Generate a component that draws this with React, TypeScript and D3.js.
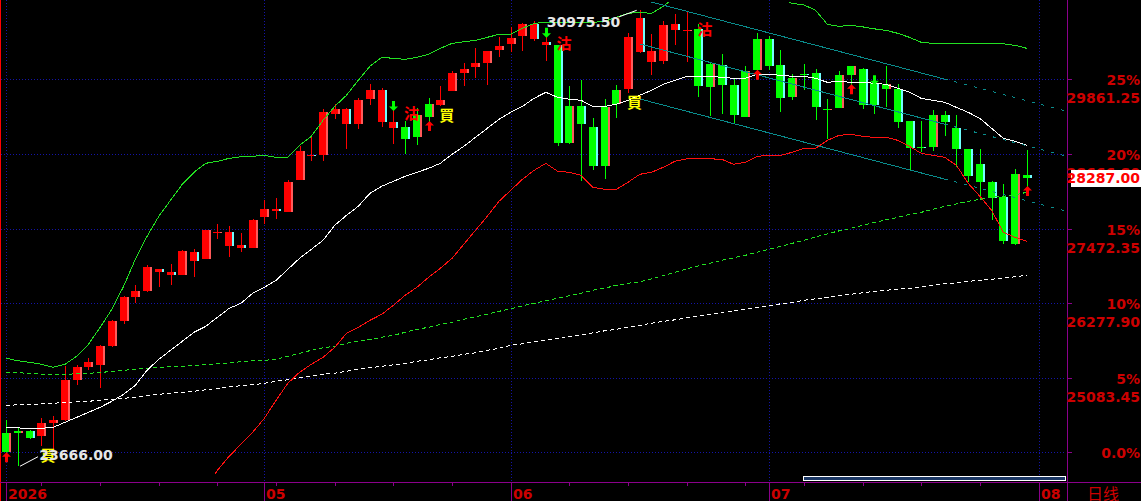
import React from 'react';
import * as d3 from 'd3';

const W = 1141;
const H = 501;

const basePrice = 23889;
const lastPrice = 28287;
const pctLevels = [0, 5, 10, 15, 20, 25];

const openP = [23889, 24198, 24225, 24145, 24358, 24401, 25042, 25255, 25282, 25586, 25991, 26375, 26471, 26824, 26776, 26728, 27096, 26984, 27400, 27422, 27208, 27160, 27656, 27779, 27736, 28249, 28655, 28649, 29300, 29392, 29140, 29540, 29685, 29172, 29092, 28937, 29257, 29445, 29673, 29962, 30058, 30122, 30325, 30421, 30554, 30741, 30458, 30405, 28841, 29428, 29097, 28473, 29460, 29712, 30842, 30138, 30149, 30741, 30634, 30672, 29737, 30085, 29765, 29257, 30005, 30501, 30085, 29577, 29952, 29962, 29364, 29408, 29925, 30032, 29801, 29701, 29701, 29188, 28777, 28777, 29284, 29087, 28740, 28500, 28217, 27976, 27219, 28324];
const highP = [24401, 24278, 24252, 24445, 24465, 25266, 25282, 25394, 25613, 26013, 26387, 26563, 26883, 26830, 26899, 27134, 27150, 27450, 27539, 27507, 27406, 27619, 27923, 27967, 28244, 28788, 28937, 29380, 29472, 29401, 29568, 29781, 29728, 29417, 29193, 29408, 29561, 29749, 29994, 30122, 30368, 30320, 30538, 30698, 30762, 30794, 30592, 30410, 29749, 29845, 29248, 29540, 29765, 30608, 30975.5, 30592, 30794, 30912, 30954, 30752, 30138, 30272, 29888, 30069, 30602, 30549, 30325, 29952, 30101, 30032, 29552, 29994, 30075, 30040, 29830, 30069, 29781, 29195, 29193, 29364, 29353, 29284, 28745, 28751, 28225, 28180, 28420, 28724];
const lowP = [23873, 23666, 24108, 23985, 23921, 24395, 24962, 25213, 24918, 25575, 25938, 26279, 26455, 26535, 26563, 26722, 26696, 26978, 27299, 27016, 27096, 27155, 27539, 27619, 27730, 28243, 28553, 28553, 29231, 28740, 29060, 29445, 29097, 28820, 28660, 28804, 29177, 29440, 29668, 29753, 29882, 29765, 30218, 30298, 30314, 30474, 30154, 28793, 28831, 28232, 28404, 28260, 29248, 29641, 30290, 29925, 30112, 30405, 30138, 29577, 29268, 29312, 29151, 29250, 30000, 30005, 29337, 29525, 29685, 29216, 28911, 29400, 29765, 29392, 29312, 29417, 29087, 28404, 28697, 28713, 28953, 28457, 28217, 27935, 27615, 27219, 27210, 28137];
const closeP = [24193, 24230, 24124, 24358, 24401, 25042, 25255, 25330, 25591, 25991, 26371, 26471, 26856, 26776, 26734, 27112, 26947, 27443, 27422, 27192, 27166, 27603, 27779, 27752, 28212, 28708, 28633, 29332, 29392, 29140, 29536, 29685, 29177, 29081, 28900, 29284, 29460, 29525, 29962, 30032, 30122, 30314, 30394, 30522, 30741, 30501, 30416, 28841, 29428, 29151, 28473, 29417, 29685, 30538, 30298, 30309, 30725, 30645, 30656, 29753, 30101, 29765, 29296, 29994, 30501, 30074, 29561, 29888, 29925, 29417, 29392, 29925, 30069, 29445, 29445, 29792, 29177, 28767, 28756, 29284, 29177, 28740, 28308, 28217, 27960, 27272, 28340, 28287];

const bollUpper = [25394, 25354, 25330, 25298, 25250, 25298, 25426, 25618, 25890, 26178, 26547, 26979, 27347, 27667, 27924, 28180, 28372, 28516, 28548, 28596, 28620, 28628, 28644, 28612, 28612, 28804, 28948, 29204, 29428, 29605, 29845, 30069, 30213, 30197, 30181, 30213, 30261, 30357, 30437, 30461, 30485, 30533, 30581, 30581, 30677, 30757, 30773, 30773, 30773, 30773, 30773, 30789, 30853, 30917, 30933, 30917, 31029, 31174, 31238, 31286, 31318, 31334, 31334, 31318, 31270, 31222, 31158, 31077, 31053, 30965, 30741, 30709, 30725, 30701, 30669, 30645, 30597, 30533, 30453, 30437, 30437, 30437, 30437, 30437, 30437, 30429, 30405, 30357];
const bollMid = [24281, 24281, 24265, 24273, 24289, 24369, 24449, 24529, 24609, 24706, 24818, 24962, 25202, 25378, 25522, 25666, 25810, 25906, 26050, 26194, 26274, 26435, 26531, 26643, 26819, 26995, 27139, 27283, 27523, 27683, 27827, 28036, 28148, 28228, 28308, 28372, 28436, 28516, 28660, 28788, 28932, 29076, 29220, 29332, 29428, 29557, 29653, 29573, 29541, 29525, 29428, 29428, 29460, 29525, 29605, 29685, 29781, 29845, 29909, 29909, 29909, 29893, 29877, 29877, 29941, 29941, 29925, 29909, 29909, 29877, 29813, 29829, 29813, 29813, 29797, 29781, 29717, 29653, 29557, 29525, 29493, 29412, 29332, 29236, 29076, 28916, 28868, 28804];
const bollLower = [23169, 23201, 23201, 23249, 23329, 23441, 23473, 23441, 23329, 23233, 23089, 22944, 23056, 23089, 23121, 23153, 23249, 23297, 23601, 23825, 24017, 24209, 24433, 24722, 24994, 25170, 25298, 25410, 25570, 25794, 25890, 26002, 26098, 26242, 26403, 26531, 26691, 26835, 26995, 27219, 27443, 27667, 27908, 28084, 28260, 28404, 28516, 28388, 28372, 28324, 28132, 28100, 28100, 28212, 28340, 28372, 28452, 28548, 28588, 28588, 28588, 28580, 28500, 28532, 28628, 28644, 28644, 28692, 28756, 28756, 28884, 28964, 28980, 28948, 28932, 28932, 28884, 28788, 28676, 28644, 28612, 28484, 28196, 27988, 27763, 27411, 27331, 27267];
const maGreen = [25165, 25162, 25154, 25138, 25138, 25138, 25146, 25154, 25165, 25186, 25202, 25218, 25234, 25250, 25258, 25266, 25282, 25290, 25306, 25322, 25338, 25354, 25362, 25378, 25426, 25474, 25522, 25562, 25586, 25634, 25666, 25698, 25730, 25762, 25810, 25858, 25890, 25938, 25970, 26018, 26058, 26098, 26146, 26186, 26234, 26274, 26314, 26355, 26395, 26435, 26483, 26515, 26563, 26595, 26619, 26667, 26715, 26771, 26827, 26875, 26915, 26963, 27003, 27043, 27091, 27139, 27187, 27235, 27283, 27339, 27387, 27435, 27475, 27523, 27571, 27611, 27651, 27699, 27731, 27779, 27827, 27867, 27908, 27940, 27972, 27988, 28012, 28052];
const maWhite = [24641, 24649, 24657, 24665, 24673, 24689, 24697, 24706, 24722, 24738, 24754, 24770, 24794, 24818, 24834, 24850, 24866, 24890, 24914, 24938, 24954, 24970, 24994, 25026, 25050, 25082, 25114, 25138, 25154, 25186, 25218, 25242, 25266, 25290, 25314, 25346, 25370, 25402, 25426, 25458, 25482, 25522, 25554, 25602, 25626, 25658, 25682, 25714, 25746, 25770, 25802, 25834, 25858, 25890, 25922, 25954, 25986, 26010, 26042, 26066, 26098, 26130, 26154, 26178, 26210, 26234, 26266, 26291, 26323, 26347, 26371, 26395, 26419, 26443, 26467, 26483, 26499, 26515, 26539, 26563, 26587, 26603, 26627, 26643, 26659, 26683, 26699, 26723];

const buySignals = [3, 37, 53];
const sellSignals = [34, 47, 59];
const sellLabelPrice = [29428, 30549, 30773];
const upArrows = [0, 36, 64, 72, 87];
const downArrows = [33, 46, 74];

const channelIdx = [54, 80];
const channelTop = [31148, 29864];
const channelMid = [30428, 29143];
const channelBot = [29547, 28263];

const monthIdx = [0, 22, 43, 65, 88];
const monthLabels = ['2026', '05', '06', '07', '08'];
const weekTickStart = 3;

const highIdx = 54;
const lowIdx = 1;

const RED = '#ff0000';
const GREEN = '#00ff00';
const UP_EDGE = '#ff5a5a';
const DOWN_EDGE = '#70ffff';
const PURPLE = '#8b008b';
const GRID = '#1414a8';
const AXIS_TXT = '#cc0000';
const TEAL = '#0a8c8c';
const NUM_FONT = "'DejaVu Sans', sans-serif";
const CJK_FONT = "'Noto Sans CJK TC', 'Noto Sans CJK SC', sans-serif";

export default function App() {
  const n = openP.length;
  const x = d3.scaleLinear().domain([0, n - 1]).range([6.3, 1026.8]);
  const y = d3.scaleLinear().domain([basePrice, basePrice * 1.25]).range([452.3, 79.3]);
  const plotRight = 1067;

  const line = d3
    .line<number>()
    .x((_, i) => x(i))
    .y((d) => y(d));

  const state: boolean[] = [];
  let red = false;
  for (let i = 0; i < n; i++) {
    if (buySignals.includes(i)) red = true;
    if (sellSignals.includes(i)) red = false;
    state.push(red);
  }

  const channelScale = (vals: number[]) => d3.scaleLinear().domain(channelIdx).range(vals);
  const extIdx = x.invert(plotRight - 1);
  const channels = [channelTop, channelMid, channelBot].map((vals) => {
    const s = channelScale(vals);
    return {
      solid: `M${x(channelIdx[0])},${y(s(channelIdx[0]))}L${x(channelIdx[1])},${y(s(channelIdx[1]))}`,
      dotted: `M${x(channelIdx[1])},${y(s(channelIdx[1]))}L${x(extIdx)},${y(s(extIdx))}`,
    };
  });

  const weekTicks: number[] = [];
  for (let i = weekTickStart; i < n; i += 5) if (!monthIdx.includes(i)) weekTicks.push(i);

  const hx = x(highIdx);
  const hy = y(highP[highIdx]);
  const lx = x(lowIdx);
  const ly = y(lowP[lowIdx]);
  const lastY = y(lastPrice);

  return (
    <svg
      width={W}
      height={H}
      viewBox={`0 0 ${W} ${H}`}
      style={{ position: 'absolute', left: 0, top: 0, background: '#000' }}
    >
      <defs>
        <clipPath id="plot">
          <rect x={1} y={2} width={plotRight - 1} height={472} />
        </clipPath>
      </defs>
      <rect x={0} y={0} width={W} height={H} fill="#000" />

      <g shapeRendering="crispEdges">
        {pctLevels.map((p) => {
          const yy = Math.round(y(basePrice * (1 + p / 100))) + 0.5;
          return (
            <line key={p} x1={1} x2={plotRight - 2} y1={yy} y2={yy} stroke={GRID} strokeDasharray="1,2" />
          );
        })}
        {monthIdx.map((i) => {
          const xx = Math.round(x(i)) + 0.5;
          return <line key={i} x1={xx} x2={xx} y1={0} y2={481} stroke={GRID} strokeDasharray="1,2" />;
        })}
      </g>

      <g shapeRendering="crispEdges">
        {openP.map((o, i) => {
          const c = closeP[i];
          const cx = Math.round(x(i));
          const fill = state[i] ? RED : GREEN;
          const up = c >= o;
          const top = Math.round(y(Math.max(o, c)));
          const bot = Math.round(y(Math.min(o, c)));
          const h = Math.max(1, bot - top);
          return (
            <g key={i}>
              <line
                x1={cx + 0.5}
                x2={cx + 0.5}
                y1={Math.round(y(highP[i]))}
                y2={Math.round(y(lowP[i]))}
                stroke={fill}
              />
              <rect x={cx - 4} y={top} width={9} height={h} fill={fill} />
              <rect x={cx + 3} y={top} width={2} height={h} fill={up ? UP_EDGE : DOWN_EDGE} />
            </g>
          );
        })}
      </g>

      <g clipPath="url(#plot)" fill="none" strokeWidth={1} shapeRendering="crispEdges">
        <path d={line(maWhite) || ''} stroke="#ffffff" strokeDasharray="4,3" />
        <path d={line(maGreen) || ''} stroke="#22e022" strokeDasharray="4,3" />
        <path d={line(bollUpper) || ''} stroke="#22e022" />
        <path d={line(bollMid) || ''} stroke="#ffffff" />
        <path d={line(bollLower) || ''} stroke="#ff1010" />
        {channels.map((ch, k) => (
          <g key={k}>
            <path d={ch.solid} stroke={TEAL} />
            <path d={ch.dotted} stroke={TEAL} strokeDasharray="3,7" />
          </g>
        ))}
      </g>

      {upArrows.map((i) => {
        const cx = Math.round(x(i)) + 0.5;
        const t = y(lowP[i]) - 1;
        return (
          <path
            key={`u${i}`}
            d={`M${cx},${t}L${cx + 4.5},${t + 4.5}L${cx + 1.5},${t + 4.5}L${cx + 1.5},${t + 10}L${cx - 1.5},${t + 10}L${cx - 1.5},${t + 4.5}L${cx - 4.5},${t + 4.5}Z`}
            fill={RED}
          />
        );
      })}
      {downArrows.map((i) => {
        const cx = Math.round(x(i)) + 0.5;
        const b = y(highP[i]) + 4;
        return (
          <path
            key={`d${i}`}
            d={`M${cx},${b}L${cx + 4.5},${b - 4.5}L${cx + 1.5},${b - 4.5}L${cx + 1.5},${b - 10}L${cx - 1.5},${b - 10}L${cx - 1.5},${b - 4.5}L${cx - 4.5},${b - 4.5}Z`}
            fill={GREEN}
          />
        );
      })}

      {buySignals.map((i) => (
        <text
          key={`b${i}`}
          x={x(i) - 1}
          y={y(lowP[i]) + 2 + 13}
          fill="#ffff00"
          fontFamily={CJK_FONT}
          fontWeight="bold"
          fontSize={15}
        >
          買
        </text>
      ))}
      {sellSignals.map((i, k) => (
        <text
          key={`s${i}`}
          x={x(i) - 1}
          y={y(sellLabelPrice[k]) + 13}
          fill={RED}
          fontFamily={CJK_FONT}
          fontWeight="bold"
          fontSize={15}
        >
          沽
        </text>
      ))}

      <line x1={hx - 3} y1={hy + 0.6} x2={hx - 21} y2={hy + 7.3} stroke="#ffffff" />
      <text
        x={hx - 19.5}
        y={hy + 17}
        textAnchor="end"
        fill="#e6e6e6"
        fontFamily={NUM_FONT}
        fontWeight="bold"
        fontSize={14}
      >
        {highP[highIdx].toFixed(2)}
      </text>
      <line x1={lx + 2} y1={ly} x2={lx + 20} y2={ly - 9.5} stroke="#ffffff" />
      <text x={lx + 21.3} y={ly - 6} fill="#e6e6e6" fontFamily={NUM_FONT} fontWeight="bold" fontSize={14}>
        {lowP[lowIdx].toFixed(2)}
      </text>

      <g shapeRendering="crispEdges">
        <line x1={0.5} x2={0.5} y1={0} y2={H} stroke={RED} />
        <line x1={0} x2={W} y1={482.5} y2={482.5} stroke={PURPLE} />
        <line x1={plotRight + 0.5} x2={plotRight + 0.5} y1={0} y2={H} stroke={PURPLE} />
        {monthIdx.map((i) => {
          const xx = Math.round(x(i)) + 0.5;
          return <line key={`mt${i}`} x1={xx} x2={xx} y1={482} y2={H} stroke={PURPLE} />;
        })}
        {weekTicks.map((i) => {
          const xx = Math.round(x(i)) + 0.5;
          return <line key={`wt${i}`} x1={xx} x2={xx} y1={482} y2={486} stroke={PURPLE} />;
        })}
        {pctLevels.map((p) => {
          const yy = Math.round(y(basePrice * (1 + p / 100))) + 0.5;
          return <line key={`rt${p}`} x1={plotRight} x2={plotRight + 5} y1={yy} y2={yy} stroke={PURPLE} />;
        })}
        <rect x={803.5} y={476.5} width={262} height={4} fill="#1b3764" stroke="#ffffff" />
      </g>

      {monthIdx.map((i, k) => (
        <text
          key={`ml${i}`}
          x={Math.round(x(i)) + 2}
          y={499}
          fill={AXIS_TXT}
          fontFamily={NUM_FONT}
          fontWeight="bold"
          fontSize={14}
        >
          {monthLabels[k]}
        </text>
      ))}
      <text x={1087} y={500} fill={AXIS_TXT} fontFamily={CJK_FONT} fontSize={16}>
        日线
      </text>

      {pctLevels.map((p) => {
        const yy = y(basePrice * (1 + p / 100));
        return (
          <g key={`rl${p}`} fontFamily={NUM_FONT} fontWeight="bold" fontSize={14} fill={AXIS_TXT} textAnchor="end">
            <text x={1140} y={yy + 6}>
              {p === 0 ? '0.0%' : `${p}%`}
            </text>
            {p > 0 && (
              <text x={1140} y={yy + 24}>
                {(basePrice * (1 + p / 100)).toFixed(2)}
              </text>
            )}
          </g>
        );
      })}

      <rect x={1071} y={Math.round(lastY) - 8} width={70} height={17} fill="#ffffff" shapeRendering="crispEdges" />
      <text
        x={1140}
        y={lastY + 5.5}
        textAnchor="end"
        fill={RED}
        fontFamily={NUM_FONT}
        fontWeight="bold"
        fontSize={14}
      >
        {lastPrice.toFixed(2)}
      </text>
    </svg>
  );
}
